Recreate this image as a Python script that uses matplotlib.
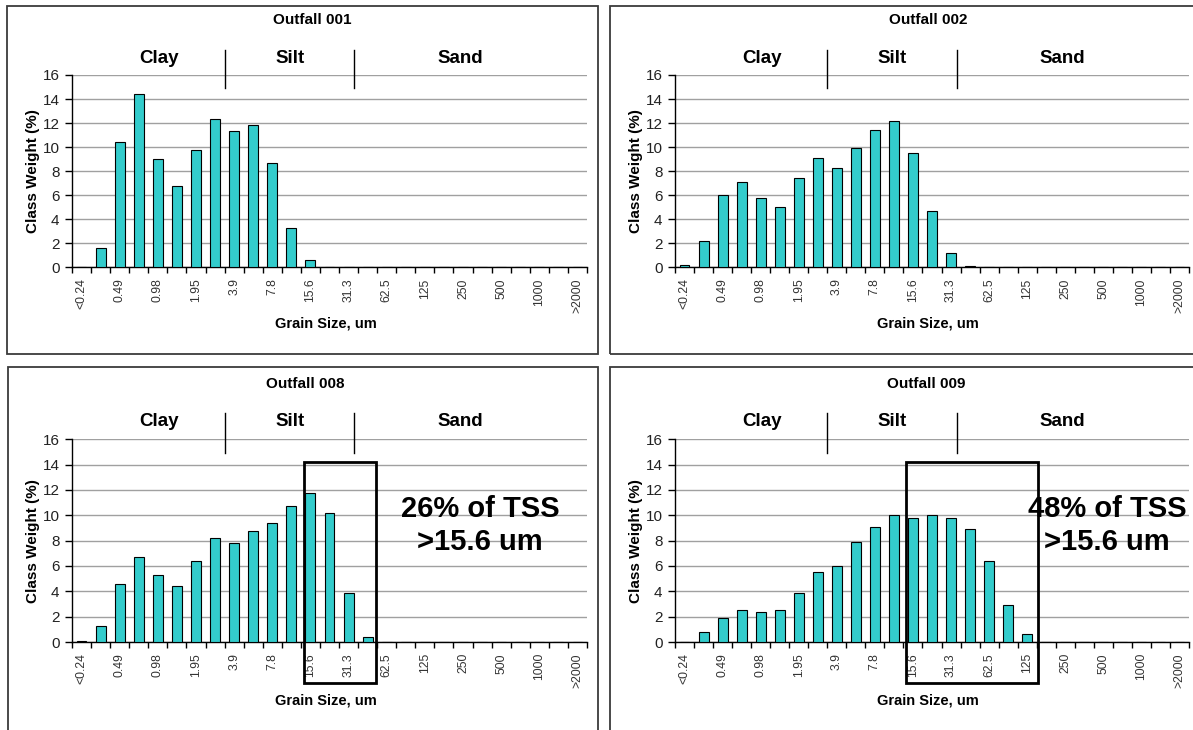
import numpy as np
import matplotlib
matplotlib.use("Agg")
import matplotlib.pyplot as plt
from matplotlib.patches import Rectangle
from matplotlib import font_manager as fm

# ---- data -------------------------------------------------------------
size_labels = ["<0.24", "0.49", "0.98", "1.95", "3.9", "7.8", "15.6", "31.3",
               "62.5", "125", "250", "500", "1000", ">2000"]

outfall_001 = [0, 1.6, 10.4, 14.4, 9.0, 6.8, 9.8, 12.3, 11.3, 11.8, 8.7, 3.3, 0.6,
               0, 0, 0, 0, 0, 0, 0, 0, 0, 0, 0, 0, 0, 0]
outfall_002 = [0.2, 2.2, 6.0, 7.1, 5.8, 5.0, 7.4, 9.1, 8.3, 9.9, 11.4, 12.2, 9.5,
               4.7, 1.2, 0.1, 0, 0, 0, 0, 0, 0, 0, 0, 0, 0, 0]
outfall_008 = [0.1, 1.3, 4.6, 6.7, 5.3, 4.4, 6.4, 8.2, 7.8, 8.8, 9.4, 10.7, 11.8,
               10.2, 3.9, 0.4, 0, 0, 0, 0, 0, 0, 0, 0, 0, 0, 0]
outfall_009 = [0, 0.8, 1.9, 2.5, 2.4, 2.5, 3.9, 5.5, 6.0, 7.9, 9.1, 10.0, 9.8,
               10.0, 9.8, 8.9, 6.4, 2.9, 0.6, 0, 0, 0, 0, 0, 0, 0, 0]

panel_titles = ["Outfall 001", "Outfall 002", "Outfall 008", "Outfall 009"]
panel_values = [outfall_001, outfall_002, outfall_008, outfall_009]

size_classes = ["Clay", "Silt", "Sand"]
class_label_x = [4.06, 10.93, 19.85]
class_breaks = [7.5, 14.3]

# highlighted coarse fraction (panels 008 and 009)
callout_text = {2: "26% of TSS\n>15.6 um", 3: "48% of TSS\n>15.6 um"}
callout_span = {2: (11.67, 15.43), 3: (11.65, 18.55)}
callout_x = {2: 20.9, 3: 22.2}

# ---- fonts ------------------------------------------------------------
names = {f.name for f in fm.fontManager.ttflist}
SANS = "Liberation Sans" if "Liberation Sans" in names else "DejaVu Sans"
NARROW = "Liberation Sans Narrow" if "Liberation Sans Narrow" in names else SANS
ytick_size = 11.5 if NARROW != SANS else 11
plt.rcParams["font.family"] = [SANS, "DejaVu Sans"]

BAR = "#33CCCC"
W, H = 1193, 730
fig = plt.figure(figsize=(W / 100, H / 100), dpi=100)

# axes rectangles in pixels: left, top, width, height
axes_px = [(72, 75, 515, 192.3), (675, 75, 514, 192.3),
           (72, 439.3, 515, 202.7), (675, 439.3, 514, 202.7)]
title_x = [0.466, 0.492, 0.452, 0.489]
frames_px = [(7, 6, 591, 348), (610, 6, 595, 348),
             (8, 367, 590, 380), (610, 367, 595, 380)]

for fx, fy, fw, fh in frames_px:
    fig.add_artist(Rectangle((fx / W, 1 - (fy + fh) / H), fw / W, fh / H,
                             transform=fig.transFigure, fill=False,
                             ec="#3a3a3a", lw=1.3))

n = len(outfall_001)
x = np.arange(n)

for i, (vals, title) in enumerate(zip(panel_values, panel_titles)):
    l, t, w, h = axes_px[i]
    ax = fig.add_axes([l / W, 1 - (t + h) / H, w / W, h / H])
    ax.bar(x, vals, width=0.52, color=BAR, edgecolor="black", linewidth=0.8,
           zorder=3)
    ax.set_xlim(-0.5, n - 0.5)
    ax.set_ylim(0, 16)
    ax.set_yticks(np.arange(0, 17, 2))
    ax.yaxis.grid(True, color="#a0a0a0", lw=1.0, zorder=0)
    ax.set_axisbelow(True)
    for s in ("top", "right"):
        ax.spines[s].set_visible(False)
    for s in ("left", "bottom"):
        ax.spines[s].set_color("black")
        ax.spines[s].set_linewidth(1.0)

    # tick marks between size classes, labels on every other class
    ax.set_xticks(np.arange(-0.5, n, 1))
    ax.set_xticklabels([])
    ax.tick_params(axis="x", which="major", direction="out", length=4,
                   width=1, color="black")
    ax.set_xticks(x[::2], minor=True)
    ax.set_xticklabels(size_labels, minor=True, rotation=90,
                       fontsize=8.8, color="#333333", fontfamily=SANS)
    ax.tick_params(axis="x", which="minor", length=0, pad=8)
    ax.tick_params(axis="y", direction="out", length=5, width=1,
                   color="black", pad=4, labelcolor="#222222")
    for lab in ax.get_yticklabels():
        lab.set_fontfamily(NARROW)
        lab.set_fontsize(ytick_size)

    ax.set_ylabel("Class Weight (%)", fontsize=11, fontweight="bold")
    ax.yaxis.set_label_coords(-0.062, 0.5)
    ax.set_xlabel("Grain Size, um", fontsize=10.5, fontweight="bold")
    ax.xaxis.set_label_coords(0.492, -0.255)

    ax.text(title_x[i], 1 + 55 / h, title, transform=ax.transAxes,
            ha="center", va="center", fontsize=11, fontweight="bold")

    for name, cx in zip(size_classes, class_label_x):
        ax.text(cx, 17.4, name, ha="center", va="center", fontsize=13.5,
                fontweight="bold", clip_on=False)
    for bx in class_breaks:
        ax.plot([bx, bx], [14.9, 18.1], color="black", lw=1.0,
                clip_on=False, zorder=4)

    if i in callout_text:
        x0, x1 = callout_span[i]
        ax.add_patch(Rectangle((x0, -3.2), x1 - x0, 14.2 + 3.2, fill=False,
                               ec="black", lw=2.0, clip_on=False, zorder=5))
        ax.text(callout_x[i], 9.2, callout_text[i], ha="center", va="center",
                fontsize=21, fontweight="bold", linespacing=1.25,
                clip_on=False, zorder=6)

fig.savefig("out.png", dpi=100)
